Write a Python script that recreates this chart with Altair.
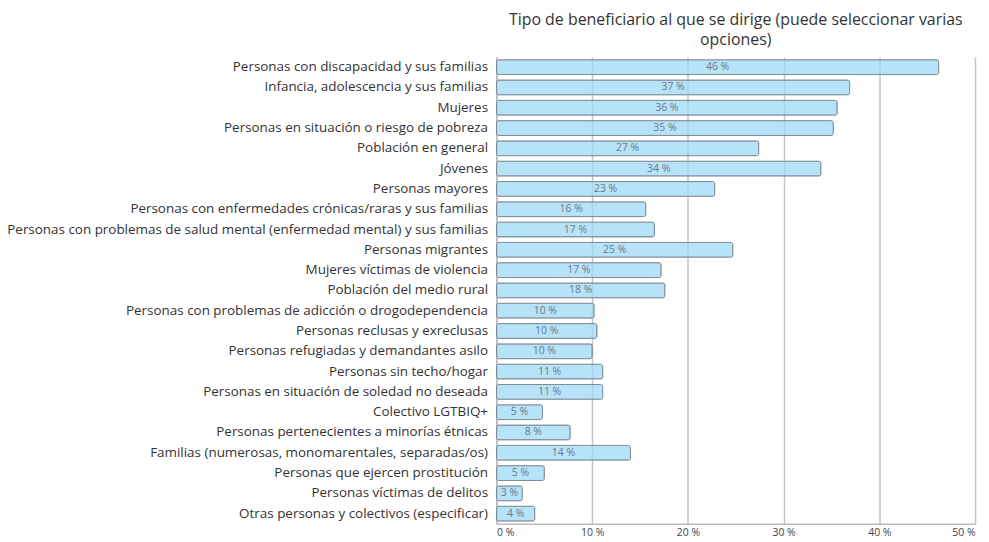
import altair as alt
import pandas as pd

categories = [
    "Personas con discapacidad y sus familias",
    "Infancia, adolescencia y sus familias",
    "Mujeres",
    "Personas en situación o riesgo de pobreza",
    "Población en general",
    "Jóvenes",
    "Personas mayores",
    "Personas con enfermedades crónicas/raras y sus familias",
    "Personas con problemas de salud mental (enfermedad mental) y sus familias",
    "Personas migrantes",
    "Mujeres víctimas de violencia",
    "Población del medio rural",
    "Personas con problemas de adicción o drogodependencia",
    "Personas reclusas y exreclusas",
    "Personas refugiadas y demandantes asilo",
    "Personas sin techo/hogar",
    "Personas en situación de soledad no deseada",
    "Colectivo LGTBIQ+",
    "Personas pertenecientes a minorías étnicas",
    "Familias (numerosas, monomarentales, separadas/os)",
    "Personas que ejercen prostitución",
    "Personas víctimas de delitos",
    "Otras personas y colectivos (especificar)",
]
values = [46.2, 36.9, 35.6, 35.2, 27.4, 33.9, 22.8, 15.6, 16.5, 24.7, 17.2, 17.6,
          10.2, 10.5, 10.0, 11.1, 11.1, 4.8, 7.7, 14.0, 5.0, 2.7, 4.0]
labels = ["46 %", "37 %", "36 %", "35 %", "27 %", "34 %", "23 %", "16 %", "17 %", "25 %",
          "17 %", "18 %", "10 %", "10 %", "10 %", "11 %", "11 %", "5 %", "8 %", "14 %",
          "5 %", "3 %", "4 %"]
x_ticks = [0, 10, 20, 30, 40, 50]

df = pd.DataFrame({"cat": categories, "val": values, "lab": labels})
df["half"] = df["val"] / 2

FONT = "Open Sans"

y_enc = alt.Y("cat:N", sort=categories, title=None,
              scale=alt.Scale(paddingInner=0.27, paddingOuter=0.13),
              axis=alt.Axis(labelFont=FONT, labelFontSize=13.5, labelColor="#333333",
                            labelLimit=1000, ticks=False, labelPadding=9,
                            domain=True, domainColor="#bbbbbb", domainWidth=1.5))

x_scale = alt.Scale(domain=[0, 50], nice=False)

bars = alt.Chart(df).mark_bar(
    fill="#9fd9f7", fillOpacity=0.75, stroke="#7d8b96", strokeWidth=1,
    cornerRadius=2
).encode(
    x=alt.X("val:Q", scale=x_scale, title=None,
            axis=alt.Axis(values=x_ticks, labelExpr="datum.value + ' %'",
                          labelFont=FONT, labelFontSize=10.5, labelColor="#444444",
                          ticks=False, labelPadding=4, grid=True,
                          gridColor="#c4c4c4", gridWidth=1.5,
                          domainColor="#bbbbbb", domainWidth=1.5)),
    y=y_enc,
)

text = alt.Chart(df).mark_text(
    font=FONT, fontSize=10.5, color="#6a7886", align="center", baseline="middle"
).encode(
    x=alt.X("half:Q", scale=x_scale),
    y=alt.Y("cat:N", sort=categories),
    text="lab:N",
)

chart = alt.layer(bars, text).properties(
    width=481, height=469,
    title=alt.TitleParams(
        ["Tipo de beneficiario al que se dirige (puede seleccionar varias", "opciones)"],
        font=FONT, fontSize=16, fontWeight="normal", color="#333333",
        anchor="middle", lineHeight=20, offset=9),
    autosize=alt.AutoSizeParams(type="none"),
    padding={"left": 491, "top": 48, "right": 6, "bottom": 17},
).configure_view(stroke=None)

chart.save("out.html", embed_options={"renderer": "svg", "actions": False})
